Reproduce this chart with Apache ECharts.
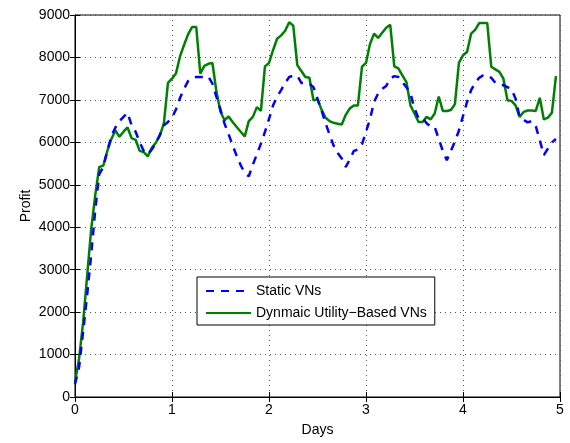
<!DOCTYPE html>
<html>
<head>
<meta charset="utf-8">
<script src="https://cdn.jsdelivr.net/npm/echarts@6/dist/echarts.min.js"></script>
<style>
    html, body { margin: 0; padding: 0; background: #fff; }
    #chart { width: 570px; height: 443px; }
</style>
</head>
<body>
<div id="chart"></div>
<script>
// hourly samples, x in days (one point per hour, 120 hours)
var stepDays = 1 / 24;

var seriesNames = ['Static VNs', 'Dynmaic Utility\u2212Based VNs'];

// Static VNs (blue dashed)
var staticVNs = [
    300, 700, 1530, 2400, 3350, 4400, 5250, 5420, 5800, 6150, 6350, 6500,
    6600, 6700, 6400, 6250, 6000, 5800, 5720, 5830, 5980, 6180, 6400, 6480,
    6580, 6780, 7050, 7266, 7447, 7517, 7540, 7540, 7540, 7550, 7384, 7070,
    6770, 6440, 6190, 5930, 5680, 5460, 5280, 5200, 5475, 5718, 5970, 6245,
    6550, 6870, 7080, 7230, 7400, 7540, 7570, 7570, 7400, 7390, 7380, 7300,
    7030, 6750, 6450, 6180, 5920, 5750, 5620, 5420, 5600, 5800, 5830, 5950,
    6250, 6550, 6950, 7150, 7260, 7330, 7500, 7560, 7540, 7420, 7300, 7150,
    6800, 6560, 6570, 6450, 6370, 6360, 6080, 5800, 5580, 5800, 6020, 6280,
    6620, 6950, 7230, 7400, 7520, 7580, 7580, 7520, 7400, 7380, 7345, 7300,
    7250, 7030, 6600, 6530, 6470, 6500, 6380, 6050, 5700, 5850, 6000, 6080
];

// Dynamic utility-based VNs (green solid)
var dynamicVNs = [
    350, 900, 1750, 2850, 3950, 4750, 5420, 5450, 5800, 6080, 6280, 6130,
    6250, 6350, 6100, 6060, 5800, 5770, 5670, 5870, 5990, 6160, 6450, 7400,
    7500, 7630, 8030, 8300, 8550, 8720, 8720, 7620, 7800, 7850, 7870, 7190,
    6720, 6520, 6610, 6480, 6360, 6250, 6140, 6500, 6600, 6830, 6740, 7790,
    7870, 8170, 8440, 8520, 8630, 8830, 8750, 7820, 7680, 7540, 7520, 6990,
    7010, 6770, 6580, 6500, 6460, 6440, 6420, 6650, 6800, 6870, 6870, 7780,
    7870, 8320, 8560, 8460, 8580, 8700, 8770, 7790, 7740, 7580, 7420, 6870,
    6680, 6480, 6480, 6600, 6540, 6680, 7080, 6740, 6740, 6760, 6900, 7880,
    8050, 8130, 8560, 8650, 8810, 8810, 8810, 7780, 7720, 7660, 7500, 6990,
    6975, 6870, 6600, 6716, 6750, 6750, 6740, 7050, 6540, 6580, 6700, 7560
];

var xTicks = [0, 1, 2, 3, 4, 5];
var yTicks = [0, 1000, 2000, 3000, 4000, 5000, 6000, 7000, 8000, 9000];

var toPairs = function (values) {
    return values.map(function (v, i) {
        return [i * stepDays, v];
    });
};

var myChart = echarts.init(document.getElementById('chart'), null, { renderer: 'canvas' });

var fontFamily = '"Liberation Sans", Arial, Helvetica, sans-serif';

var dotted = {
    show: true,
    lineStyle: { color: '#555', width: 1, type: [1, 4] }
};

// plain numbers, no thousand separators
var plainLabel = function (v) {
    return String(v);
};

var option = {
    animation: false,
    backgroundColor: '#fff',
    textStyle: { fontFamily: fontFamily },
    grid: {
        left: 75,
        right: 10,
        top: 15,
        bottom: 46,
        show: true,
        borderColor: '#000',
        borderWidth: 1
    },
    legend: {
        orient: 'vertical',
        left: 197,
        top: 277,
        padding: [7, 8, 5, 8],
        itemGap: 8,
        itemWidth: 45,
        itemHeight: 14,
        backgroundColor: '#fff',
        borderColor: '#000',
        borderWidth: 1,
        borderRadius: 0,
        itemStyle: { opacity: 0 },  // hide the symbol, keep the line
        textStyle: { fontSize: 14, color: '#000', fontFamily: fontFamily },
        data: seriesNames
    },
    xAxis: [
        {
            type: 'value',
            min: xTicks[0],
            max: xTicks[xTicks.length - 1],
            interval: 1,
            name: 'Days',
            nameLocation: 'middle',
            nameGap: 26,
            nameTextStyle: { fontSize: 14, color: '#000' },
            axisLine: { lineStyle: { color: '#000', width: 1 } },
            axisTick: { inside: true, length: 5, lineStyle: { color: '#000' } },
            axisLabel: { fontSize: 14, color: '#000', margin: 6, formatter: plainLabel },
            splitLine: dotted
        },
        {
            type: 'value',
            position: 'top',
            min: xTicks[0],
            max: xTicks[xTicks.length - 1],
            interval: 1,
            axisLine: { lineStyle: { color: '#000', width: 1 } },
            axisTick: { inside: true, length: 5, lineStyle: { color: '#000' } },
            axisLabel: { show: false },
            splitLine: { show: false }
        }
    ],
    yAxis: [
        {
            type: 'value',
            min: yTicks[0],
            max: yTicks[yTicks.length - 1],
            interval: 1000,
            name: 'Profit',
            nameLocation: 'middle',
            nameGap: 42,
            nameMoveOverlap: false,
            nameTextStyle: { fontSize: 14, color: '#000' },
            axisLine: { show: true, lineStyle: { color: '#000', width: 1 } },
            axisTick: { show: true, inside: true, length: 5, lineStyle: { color: '#000' } },
            axisLabel: { fontSize: 14, color: '#000', margin: 5, formatter: plainLabel },
            splitLine: dotted
        },
        {
            type: 'value',
            position: 'right',
            min: yTicks[0],
            max: yTicks[yTicks.length - 1],
            interval: 1000,
            axisLine: { show: true, lineStyle: { color: '#000', width: 1 } },
            axisTick: { show: true, inside: true, length: 5, lineStyle: { color: '#000' } },
            axisLabel: { show: false },
            splitLine: { show: false }
        }
    ],
    series: [
        {
            name: seriesNames[0],
            type: 'line',
            symbol: 'none',
            data: toPairs(staticVNs),
            itemStyle: { color: '#0000ff' },
            lineStyle: { color: '#0000ff', width: 2.5, type: [8, 7] },
            z: 3
        },
        {
            name: seriesNames[1],
            type: 'line',
            symbol: 'none',
            data: toPairs(dynamicVNs),
            itemStyle: { color: '#008000' },
            lineStyle: { color: '#008000', width: 2.5 },
            z: 2
        }
    ]
};

myChart.setOption(option);
</script>
</body>
</html>
